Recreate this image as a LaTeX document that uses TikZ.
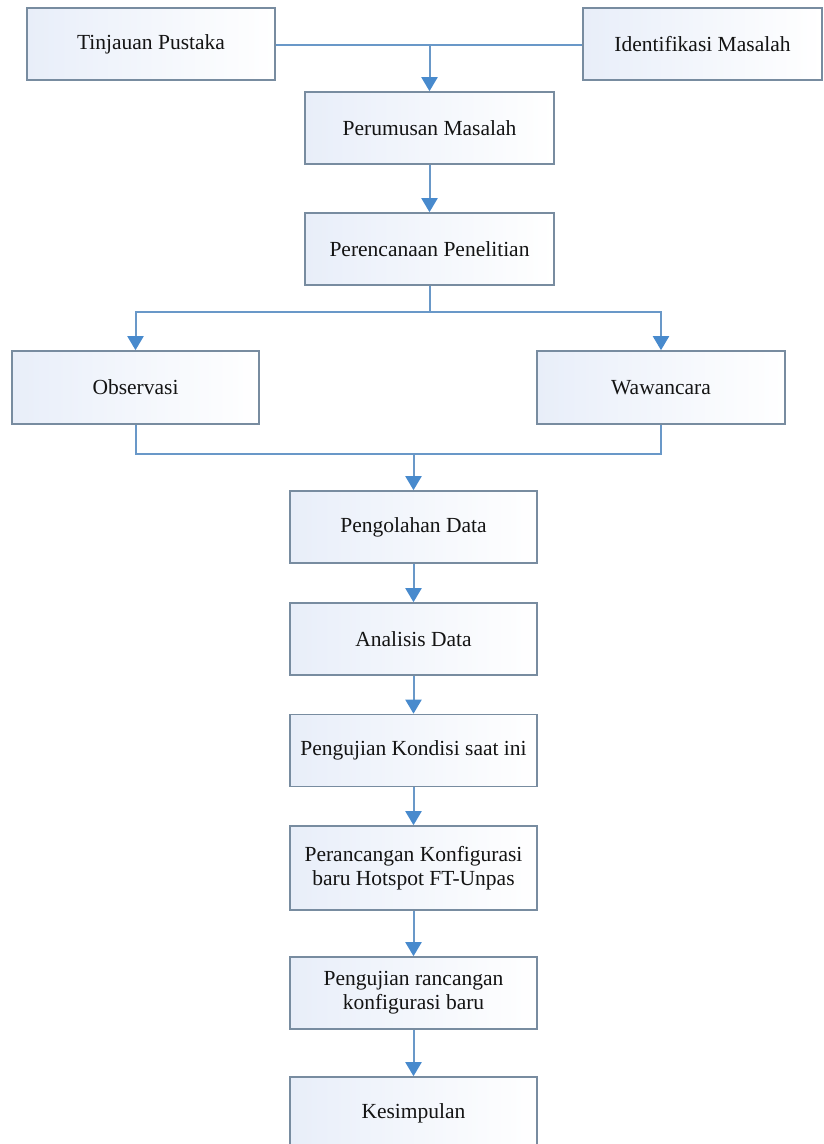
\documentclass[tikz,border=0pt]{standalone}
\usepackage{fontspec}
\setmainfont{Liberation Serif}
\usetikzlibrary{arrows.meta}

\definecolor{linecol}{RGB}{105,152,200}
\definecolor{tipcol}{RGB}{72,138,205}
\definecolor{boxline}{RGB}{120,140,160}
\definecolor{boxfill}{RGB}{232,238,249}
\definecolor{txtcol}{RGB}{20,20,20}

\begin{document}
\begin{tikzpicture}[x=1pt,y=-1pt,font=\fontsize{21.5}{24}\selectfont,
	box/.style={draw=boxline,line width=1.6pt,left color=boxfill,right color=white,
		minimum height=72pt,inner sep=0pt,align=center,text=txtcol},
	wire/.style={draw=linecol,line width=2pt},
	arr/.style={wire,-{Triangle[width=16pt,length=14pt,color=tipcol]}}]
	\useasboundingbox (0,0) rectangle (823,1144); %page

	%top row
		\node[box,minimum width=248pt] (tinjauan) at (151,44) {Tinjauan Pustaka}; %left
		\node[box,minimum width=239pt] (identifikasi) at (702.5,44) {Identifikasi Masalah}; %right

	%main column
		\node[box,minimum width=249pt] (perumusan) at (429.5,128) {Perumusan Masalah};
		\node[box,minimum width=249pt] (perencanaan) at (429.5,249) {Perencanaan Penelitian};
		\node[box,minimum width=247pt,minimum height=73pt] (observasi) at (135.5,387.5) {Observasi}; %left branch
		\node[box,minimum width=248pt,minimum height=73pt] (wawancara) at (661,387.5) {Wawancara}; %right branch
		\node[box,minimum width=247pt] (pengolahan) at (413.5,527) {Pengolahan Data};
		\node[box,minimum width=247pt] (analisis) at (413.5,639) {Analisis Data};
		\node[box,minimum width=247pt] (kondisi) at (413.5,750.5) {Pengujian Kondisi saat ini};
		\node[box,minimum width=247pt,minimum height=84pt] (perancangan) at (413.5,868) {Perancangan Konfigurasi\\baru Hotspot FT-Unpas};
		\node[box,minimum width=247pt] (pengujian) at (413.5,993) {Pengujian rancangan\\konfigurasi baru};
		\node[box,minimum width=247pt] (kesimpulan) at (413.5,1113) {Kesimpulan};

	%junction points
		\coordinate (join) at (429.5,45); %top line
		\coordinate (split) at (429.5,312); %fork
		\coordinate (merge) at (413.5,454); %merge

	%connectors
		\draw[wire] (tinjauan.east |- join) -- (identifikasi.west |- join); %top line
		\draw[arr] (join) -- (perumusan.north);
		\draw[arr] (perumusan) -- (perencanaan);
		\draw[wire] (perencanaan.south) -- (split);
		\draw[arr] (split) -| (observasi.north);
		\draw[arr] (split) -| (wawancara.north);
		\draw[wire] (observasi.south) |- (merge) -| (wawancara.south);
		\draw[arr] (merge) -- (pengolahan.north);
		\draw[arr] (pengolahan) -- (analisis);
		\draw[arr] (analisis) -- (kondisi);
		\draw[arr] (kondisi) -- (perancangan);
		\draw[arr] (perancangan) -- (pengujian);
		\draw[arr] (pengujian) -- (kesimpulan);
\end{tikzpicture}
\end{document}
